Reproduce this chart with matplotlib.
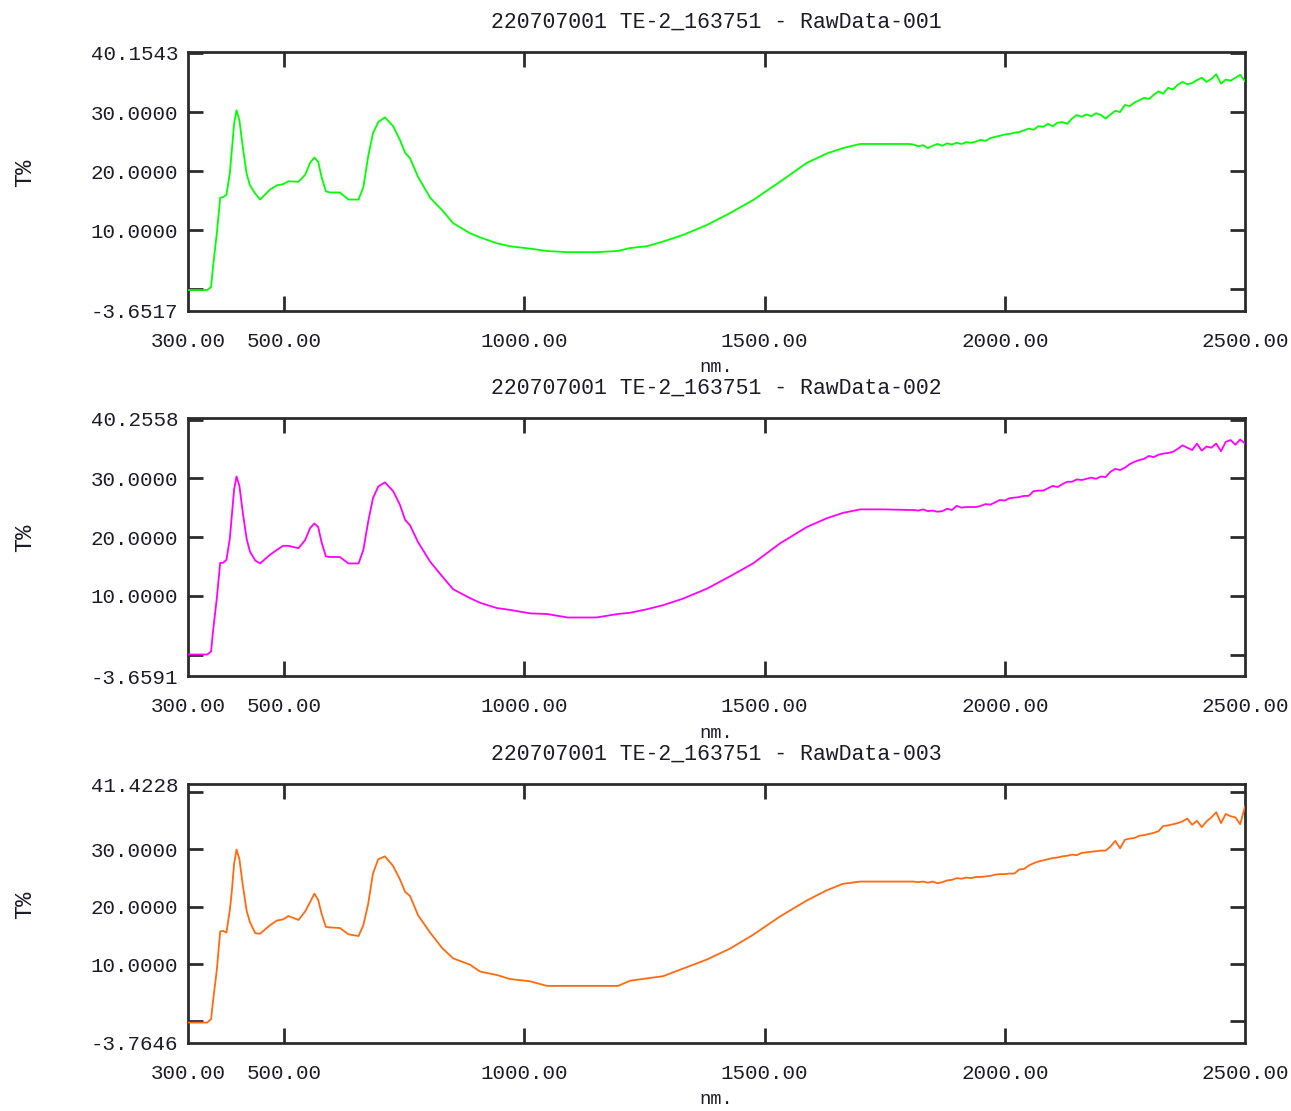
"""
TE-2 sample transmittance spectra (T%), three repeat scans RawData-001..003
stacked one above the other, in the style of the spectrophotometer export.
"""
import matplotlib
matplotlib.use("Agg")
import matplotlib.pyplot as plt

OUTPUT_PATH = "out.png"

SAMPLE_NAME = "220707001 TE-2_163751"
SCAN_NAMES = ["RawData-001", "RawData-002", "RawData-003"]
Y_LIMITS = [(-3.6517, 40.1543), (-3.6591, 40.2558), (-3.7646, 41.4228)]
X_LIMITS = (300, 2500)
X_TICKS = [500, 1000, 1500, 2000]
Y_TICKS = [0, 10, 20, 30, 40]
Y_LABELED = [10, 20, 30]

# wavelength grid (nm), shared by all three scans
WAVELENGTH = [
    300, 340, 348, 352, 360, 367, 373, 380, 387, 391, 396, 401, 407, 414, 422,
    429, 440, 450, 471, 485, 498, 509, 530, 544, 554, 563, 571, 578, 587, 595,
    616, 634, 655, 665, 675, 685, 696, 710, 727, 741, 752, 762, 779, 804,
    829, 852, 887, 908, 943, 970, 1012, 1047, 1090, 1150, 1195, 1220, 1255,
    1289, 1330, 1380, 1428, 1476, 1532, 1588, 1630, 1663, 1699, 1750, 1800,
    1810, 1820, 1830, 1840, 1850, 1860, 1870, 1880, 1890, 1900,
    1910, 1920, 1930, 1940, 1950, 1960, 1970, 1980, 1990, 2000,
    2010, 2020, 2030, 2040, 2050, 2060, 2070, 2080, 2090, 2100,
    2110, 2120, 2130, 2140, 2150, 2160, 2170, 2180, 2190, 2200,
    2210, 2220, 2230, 2240, 2250, 2260, 2270, 2280, 2290, 2300,
    2310, 2320, 2330, 2340, 2350, 2360, 2370, 2380, 2390, 2400,
    2410, 2420, 2430, 2440, 2450, 2460, 2470, 2480, 2490, 2500,
]

T_001 = [
    -0.1, -0.1, 0.4, 3.8, 9.5, 15.5, 15.6, 16.0, 19.6, 23.3, 28.0, 30.3, 28.6, 24.1, 19.6,
    17.6, 16.2, 15.2, 16.9, 17.6, 17.8, 18.3, 18.2, 19.4, 21.4, 22.3, 21.6, 19.0, 16.6, 16.4,
    16.4, 15.2, 15.2, 17.3, 22.5, 26.4, 28.3, 29.1, 27.6, 25.3, 23.1, 22.2, 19.0, 15.5,
    13.4, 11.2, 9.5, 8.8, 7.8, 7.3, 6.9, 6.5, 6.3, 6.3, 6.5, 7.0, 7.3,
    8.1, 9.2, 10.9, 12.9, 15.1, 18.2, 21.4, 23.0, 23.9, 24.6, 24.6, 24.6,
    24.5, 24.2, 24.4, 23.9, 24.3, 24.6, 24.3, 24.7, 24.5, 24.8,
    24.6, 24.9, 24.8, 25.0, 25.3, 25.1, 25.6, 25.8, 26.0, 26.2,
    26.3, 26.5, 26.6, 26.9, 27.2, 27.0, 27.6, 27.5, 28.0, 27.6,
    28.2, 28.3, 28.0, 28.9, 29.5, 29.2, 29.6, 29.3, 29.8, 29.5,
    28.9, 29.6, 30.2, 30.0, 31.2, 31.0, 31.6, 32.0, 32.4, 32.2,
    32.9, 33.5, 33.1, 34.1, 33.8, 34.6, 35.1, 34.7, 34.9, 35.4,
    35.8, 35.1, 35.6, 36.4, 34.8, 35.5, 35.3, 35.8, 36.3, 35.2,
]

T_002 = [
    0.0, 0.0, 0.5, 3.9, 9.6, 15.6, 15.6, 16.1, 19.7, 23.4, 28.1, 30.3, 28.7, 24.2, 19.7,
    17.5, 16.0, 15.5, 17.0, 17.8, 18.5, 18.5, 18.1, 19.5, 21.5, 22.3, 21.7, 19.1, 16.7, 16.6,
    16.6, 15.5, 15.5, 17.8, 22.6, 26.6, 28.6, 29.3, 27.8, 25.5, 22.9, 22.0, 19.1, 15.8,
    13.3, 11.1, 9.6, 8.8, 7.9, 7.6, 7.0, 6.9, 6.3, 6.3, 6.9, 7.1, 7.7,
    8.4, 9.5, 11.2, 13.3, 15.5, 18.9, 21.7, 23.2, 24.1, 24.7, 24.7, 24.6,
    24.6, 24.5, 24.7, 24.4, 24.5, 24.3, 24.4, 24.8, 24.6, 25.3,
    25.0, 25.1, 25.1, 25.1, 25.3, 25.6, 25.5, 25.9, 26.3, 26.2,
    26.6, 26.7, 26.8, 27.0, 27.0, 27.8, 27.9, 27.9, 28.3, 28.7,
    28.5, 29.0, 29.4, 29.4, 29.8, 29.7, 29.9, 30.1, 29.9, 30.3,
    30.2, 31.1, 31.6, 31.4, 31.8, 32.4, 32.8, 33.1, 33.3, 33.8,
    33.6, 34.0, 34.2, 34.3, 34.5, 35.0, 35.6, 35.2, 34.8, 35.9,
    34.7, 35.4, 35.2, 35.9, 34.6, 36.2, 36.5, 35.7, 36.6, 35.9,
]

T_003 = [
    -0.2, -0.2, 0.4, 3.5, 9.0, 15.7, 15.8, 15.5, 19.4, 22.5, 27.5, 30.0, 28.3, 23.8, 19.3,
    17.3, 15.4, 15.3, 16.8, 17.6, 17.8, 18.4, 17.7, 19.2, 20.8, 22.3, 21.2, 18.8, 16.5, 16.4,
    16.3, 15.2, 14.9, 16.8, 20.5, 25.8, 28.3, 28.8, 27.1, 24.8, 22.6, 21.9, 18.5, 15.5,
    12.8, 11.0, 9.9, 8.7, 8.1, 7.4, 7.0, 6.2, 6.2, 6.2, 6.2, 7.1, 7.5,
    7.9, 9.2, 10.8, 12.7, 15.1, 18.3, 21.1, 22.9, 24.0, 24.4, 24.4, 24.4,
    24.4, 24.3, 24.4, 24.2, 24.4, 24.1, 24.3, 24.6, 24.7, 25.0,
    24.9, 25.1, 25.0, 25.2, 25.2, 25.3, 25.4, 25.6, 25.7, 25.7,
    25.8, 25.8, 26.5, 26.6, 27.2, 27.6, 27.9, 28.1, 28.3, 28.5,
    28.6, 28.8, 28.9, 29.1, 29.0, 29.4, 29.5, 29.6, 29.7, 29.8,
    29.8, 30.5, 31.5, 30.2, 31.7, 31.9, 32.0, 32.4, 32.5, 32.7,
    32.9, 33.2, 34.1, 34.2, 34.4, 34.6, 34.9, 35.4, 34.3, 35.0,
    33.9, 34.9, 35.6, 36.5, 34.6, 36.2, 35.8, 35.6, 34.4, 37.5,
]

SERIES = [T_001, T_002, T_003]
COLORS = ["#00ff00", "#ff00ff", "#ff6a10"]

INK = "#1c1c28"
FRAME = "#2b2b2b"
FONT = ["Liberation Mono", "DejaVu Sans Mono"]

# layout in pixels of the 1291x1111 canvas (axes top / bottom edges)
FIG_W, FIG_H = 1291, 1111
AX_LEFT, AX_RIGHT = 188, 1245
AX_ROWS = [(52, 311), (418, 676), (784, 1043)]


def style_axes(ax, ylim):
    """Frame, inward ticks on all sides, and the instrument-style labels."""
    ax.set_xlim(*X_LIMITS)
    ax.set_ylim(*ylim)

    for spine in ax.spines.values():
        spine.set_color(FRAME)
        spine.set_linewidth(2)

    # major ticks are the visible marks; the axis ends get label-only minor ticks
    ax.set_xticks(X_TICKS)
    ax.set_xticklabels([f"{v:.2f}" for v in X_TICKS])
    ax.set_xticks(list(X_LIMITS), minor=True)
    ax.set_xticklabels([f"{v:.2f}" for v in X_LIMITS], minor=True)

    ax.set_yticks(Y_TICKS)
    ax.set_yticklabels([f"{v:.4f}" if v in Y_LABELED else "" for v in Y_TICKS])
    ax.set_yticks(list(ylim), minor=True)
    ax.set_yticklabels([f"{v:.4f}" for v in ylim], minor=True)

    ax.tick_params(which="major", direction="in", length=11, width=2, color=FRAME,
                   top=True, right=True)
    ax.tick_params(which="minor", length=0)
    ax.tick_params(axis="x", which="both", pad=15, labelsize=15, labelcolor=INK)
    ax.tick_params(axis="y", which="both", pad=7, labelsize=15, labelcolor=INK)
    for label in ax.get_xticklabels(which="both") + ax.get_yticklabels(which="both"):
        label.set_family(FONT)


def main():
    fig = plt.figure(figsize=(FIG_W / 100, FIG_H / 100), dpi=100, facecolor="white")
    x_center = (AX_LEFT + AX_RIGHT) / 2 / FIG_W

    for (top, bottom), ylim, values, color, scan in zip(AX_ROWS, Y_LIMITS, SERIES, COLORS, SCAN_NAMES):
        ax = fig.add_axes([AX_LEFT / FIG_W, 1 - bottom / FIG_H,
                           (AX_RIGHT - AX_LEFT) / FIG_W, (bottom - top) / FIG_H])
        ax.plot(WAVELENGTH, values, color=color, linewidth=1.3, zorder=3)
        style_axes(ax, ylim)

        fig.text(x_center, 1 - (top - 30) / FIG_H, f"{SAMPLE_NAME} - {scan}",
                 ha="center", va="center", fontsize=15.5, color=INK, family=FONT)
        fig.text(x_center, 1 - (bottom + 57) / FIG_H, "nm.",
                 ha="center", va="center", fontsize=13.5, color=INK, family=FONT)
        fig.text(25 / FIG_W, 1 - ((top + bottom) / 2 - 9) / FIG_H, "T%",
                 ha="center", va="center", rotation=90, fontsize=17, color=INK, family=FONT)

    fig.savefig(OUTPUT_PATH, dpi=100, facecolor="white")


if __name__ == "__main__":
    main()
